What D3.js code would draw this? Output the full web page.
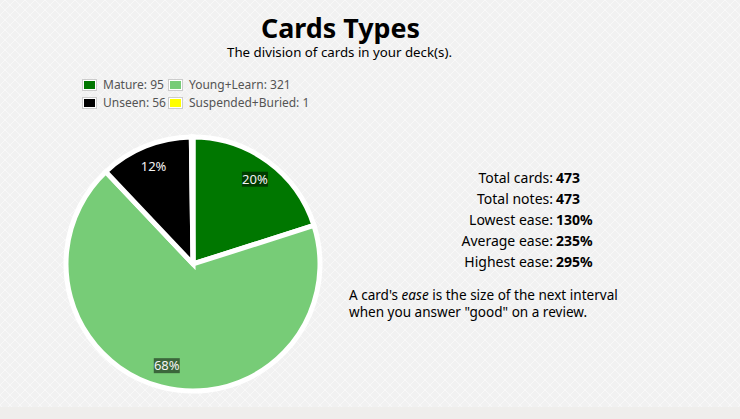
<!DOCTYPE html>
<html><head><meta charset="utf-8">
<script src="https://cdn.jsdelivr.net/npm/d3@7"></script>
<style>html,body{margin:0;padding:0;background:#efeeec;}svg{display:block;}</style>
</head><body>
<script>
// ---- data ----
const categories = ["Mature", "Young+Learn", "Unseen", "Suspended+Buried"];
const counts = [95, 321, 56, 1];
const colors = ["#007700", "#77cc77", "#000000", "#ffff00"];
const statLabels = ["Total cards:", "Total notes:", "Lowest ease:", "Average ease:", "Highest ease:"];
const statValues = ["473", "473", "130%", "235%", "295%"];
const title = "Cards Types";
const subtitle = "The division of cards in your deck(s).";

const W = 740, H = 419;
const FONT = "'Noto Sans', 'Open Sans', sans-serif";
const svg = d3.select("body").append("svg").attr("width", W).attr("height", H);

// background pattern
const defs = svg.append("defs");
const pat = defs.append("pattern").attr("id", "bg").attr("width", 10).attr("height", 10).attr("patternUnits", "userSpaceOnUse");
pat.append("rect").attr("width", 10).attr("height", 10).attr("fill", "#f1f1f1");
pat.append("path").attr("d", "M0,5 L5,0 L10,5 L5,10 Z").attr("fill", "none").attr("stroke", "#f8f8f8").attr("stroke-width", 1);
svg.append("rect").attr("width", W).attr("height", 407).attr("fill", "url(#bg)");
svg.append("rect").attr("y", 407).attr("width", W).attr("height", H - 407).attr("fill", "#efeeec");

function fit(sel, target) {
  const n = sel.node();
  const fs = parseFloat(sel.attr("font-size"));
  const len = n.getComputedTextLength();
  const nf = fs * target / len;
  sel.attr("font-size", nf.toFixed(2));
  return nf;
}

// titles
fit(svg.append("text").attr("x", 340.5).attr("y", 37.5).attr("text-anchor", "middle")
  .attr("font-family", FONT).attr("font-weight", "bold").attr("font-size", 26).attr("fill", "#000").text(title), 159);
fit(svg.append("text").attr("x", 339.5).attr("y", 57).attr("text-anchor", "middle")
  .attr("font-family", FONT).attr("font-size", 14).attr("fill", "#000").text(subtitle), 225);

// legend
const legendPos = [[82, 79], [168, 79], [82, 97], [168, 97]];
const lg = svg.append("g");
categories.forEach((c, i) => {
  const [x, y] = legendPos[i];
  lg.append("rect").attr("x", x + 0.5).attr("y", y + 0.5).attr("width", 14).attr("height", 11)
    .attr("fill", "#fff").attr("stroke", "#cccccc");
  lg.append("rect").attr("x", x + 2).attr("y", y + 2).attr("width", 11).attr("height", 8).attr("fill", colors[i]);
  lg.append("text").attr("x", x + 21).attr("y", y + 10).attr("font-family", FONT).attr("font-size", 12)
    .attr("fill", "#545454").text(c + ": " + counts[i]);
});

// pie
const cx = 193, cy = 264, R = 127;
const total = d3.sum(counts);
const pie = d3.pie().sort(null).value(d => d.v);
const arcs = pie(counts.map((v, i) => ({v, i})));
const arc = d3.arc().innerRadius(0).outerRadius(R);
const labelArc = d3.arc().innerRadius(105).outerRadius(105);
const pg = svg.append("g").attr("transform", `translate(${cx},${cy})`);
pg.selectAll("path.slice").data(arcs).join("path").attr("class", "slice")
  .attr("d", arc).attr("fill", d => colors[d.data.i])
  .attr("stroke", "#fff").attr("stroke-width", 5).attr("stroke-linejoin", "miter");

arcs.forEach(d => {
  const pct = d.data.v / total;
  if (pct < 0.05) return;
  const [lx, ly] = labelArc.centroid(d);
  const g = pg.append("g").attr("transform", `translate(${lx},${ly})`);
  g.append("rect").attr("x", -13).attr("y", -7.5).attr("width", 26).attr("height", 15)
    .attr("fill", "#000").attr("fill-opacity", 0.5);
  g.append("text").attr("text-anchor", "middle").attr("dy", "0.36em")
    .attr("font-family", FONT).attr("font-size", 13).attr("fill", "#f4f4f4")
    .text(Math.round(pct * 100) + "%");
});

// stats table
const sg = svg.append("g");
statLabels.forEach((l, i) => {
  const y = 183 + i * 21;
  sg.append("text").attr("x", 553).attr("y", y).attr("text-anchor", "end")
    .attr("font-family", FONT).attr("font-size", 14).attr("fill", "#000").text(l);
  sg.append("text").attr("x", 556).attr("y", y)
    .attr("font-family", FONT).attr("font-weight", "bold").attr("font-size", 14).attr("fill", "#000").text(statValues[i]);
});

// explanation
const e1 = svg.append("text").attr("x", 349).attr("y", 300).attr("font-family", FONT).attr("font-size", 14).attr("fill", "#000");
e1.append("tspan").text("A card's ");
e1.append("tspan").attr("font-style", "italic").text("ease");
e1.append("tspan").text(" is the size of the next interval");
const efs = fit(e1, 269);
svg.append("text").attr("x", 349).attr("y", 316.5).attr("font-family", FONT).attr("font-size", efs.toFixed(2)).attr("fill", "#000")
  .text("when you answer \"good\" on a review.");
</script>
</body></html>
